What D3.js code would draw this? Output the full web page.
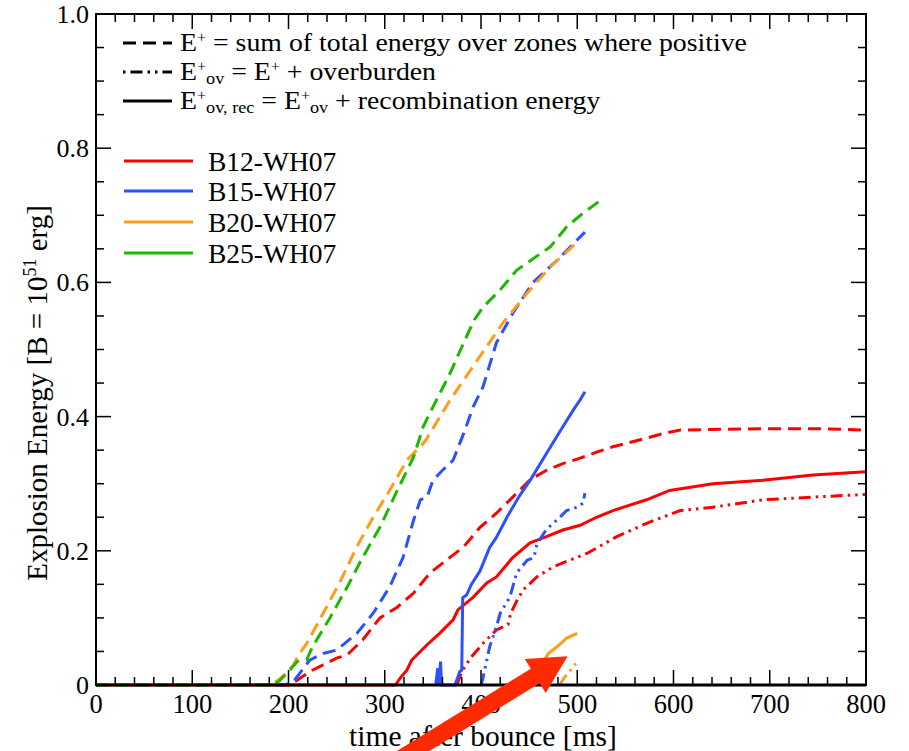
<!DOCTYPE html>
<html>
<head>
<meta charset="utf-8">
<script src="https://cdn.jsdelivr.net/npm/d3@7"></script>
<style>
  body { margin: 0; background: #fff; }
  text { font-family: "Liberation Serif", "Times New Roman", serif; fill: #000; }
</style>
</head>
<body>
<div id="chart"></div>
<script>
// data: [time (ms), energy (B)]
let b12Dashed = [[0,0],[200,0],[209,0.007],[222,0.02],[236,0.03],[250,0.04],[261,0.045],[277,0.067],[295,0.1],[313,0.116],[330,0.137],[347,0.167],[364,0.186],[382,0.206],[399,0.235],[416,0.256],[433,0.28],[451,0.306],[468,0.32],[485,0.33],[503,0.338],[520,0.347],[537,0.355],[572,0.368],[590,0.375],[607,0.38],[650,0.381],[700,0.382],[750,0.382],[800,0.38]];
let b12Solid = [[0,0],[311,0],[317,0.012],[323,0.022],[328,0.037],[344,0.06],[357,0.077],[371,0.097],[376,0.112],[392,0.131],[406,0.152],[416,0.161],[433,0.19],[451,0.212],[468,0.221],[485,0.231],[503,0.238],[520,0.25],[537,0.26],[572,0.276],[596,0.29],[641,0.3],[693,0.305],[745,0.313],[800,0.318]];
let b12DashDot = [[375,0],[380,0.02],[389,0.04],[402,0.062],[416,0.082],[428,0.09],[431,0.107],[437,0.125],[444,0.142],[458,0.161],[475,0.176],[492,0.186],[510,0.196],[541,0.221],[572,0.241],[607,0.26],[641,0.265],[693,0.276],[745,0.28],[800,0.284]];

let b15Dashed = [[0,0],[195,0],[204,0.003],[213,0.02],[222,0.037],[236,0.047],[250,0.052],[271,0.077],[288,0.107],[305,0.146],[319,0.19],[330,0.246],[337,0.276],[344,0.28],[350,0.305],[360,0.32],[371,0.335],[382,0.375],[392,0.415],[402,0.444],[416,0.51],[433,0.554],[454,0.6],[479,0.633],[508,0.675]];
let b15Solid = [[353,0],[355,0.025],[356,0],[358,0.035],[359,0],[373,0],[378,0.02],[380,0.022],[381,0.13],[385,0.134],[390,0.15],[399,0.17],[409,0.205],[416,0.22],[427,0.25],[433,0.265],[440,0.282],[451,0.305],[468,0.345],[485,0.385],[496,0.41],[503,0.425],[508,0.437]];
let b15DashDot = [[400,0],[402,0.01],[405,0.03],[409,0.057],[416,0.087],[420,0.107],[430,0.131],[437,0.167],[448,0.186],[455,0.19],[458,0.21],[468,0.232],[479,0.246],[489,0.26],[500,0.265],[506,0.271],[508,0.286]];

let b20Dashed = [[0,0],[180,0],[190,0.008],[198,0.018],[205,0.03],[212,0.048],[219,0.062],[236,0.107],[253,0.152],[271,0.206],[288,0.25],[305,0.29],[323,0.335],[340,0.36],[344,0.368],[368,0.425],[396,0.484],[423,0.54],[448,0.584],[472,0.623],[497,0.656]];
let b20Solid = [[455,0],[460,0.015],[465,0.035],[470,0.047],[479,0.057],[489,0.07],[500,0.077]];
let b20DashDot = [[482,0],[486,0.01],[492,0.02],[500,0.035]];

let b25Dashed = [[0,0],[185,0],[191,0.007],[200,0.02],[209,0.035],[219,0.038],[225,0.057],[243,0.1],[261,0.146],[277,0.19],[295,0.235],[313,0.29],[330,0.34],[340,0.385],[350,0.414],[368,0.465],[382,0.51],[393,0.544],[402,0.563],[420,0.589],[437,0.618],[472,0.653],[489,0.683],[506,0.703],[522,0.72]];

let models = ["B12-WH07", "B15-WH07", "B20-WH07", "B25-WH07"];
let colors = ["#ff0000", "#2d50ff", "#ff9c1c", "#1eb800"];
let styleNames = ["E+ dashed", "E+ov dash-dot", "E+ov,rec solid"];

let xTicks = [0,100,200,300,400,500,600,700,800];
let yTicks = [0,0.2,0.4,0.6,0.8,1.0];

// arrow annotation (tail, tip) in data units
let arrowTail = [314, -0.112], arrowTip = [490, 0.043];

let dashE = "13,7", dashOv = "12,5,2.5,5,2.5,5";
let series = [
  {data: b12Dashed, color: colors[0], dash: dashE},
  {data: b12DashDot, color: colors[0], dash: dashOv},
  {data: b12Solid, color: colors[0], dash: null},
  {data: b15Dashed, color: colors[1], dash: dashE},
  {data: b15DashDot, color: colors[1], dash: dashOv},
  {data: b15Solid, color: colors[1], dash: null},
  {data: b20Dashed, color: colors[2], dash: dashE},
  {data: b20DashDot, color: colors[2], dash: dashOv},
  {data: b20Solid, color: colors[2], dash: null},
  {data: b25Dashed, color: colors[3], dash: dashE}
];

let width = 909, height = 751;
let mLeft = 96, mRight = 866, mTop = 14, mBottom = 685;

let svg = d3.select("#chart").append("svg").attr("width", width).attr("height", height);

let x = d3.scaleLinear().domain([0, 800]).range([mLeft, mRight]);
let y = d3.scaleLinear().domain([0, 1]).range([mBottom, mTop]);

svg.append("clipPath").attr("id", "clip")
  .append("rect").attr("x", mLeft).attr("y", mTop).attr("width", mRight - mLeft).attr("height", mBottom - mTop + 3);

// curves
let line = d3.line().x(d => x(d[0])).y(d => y(d[1]));
svg.append("g").attr("clip-path", "url(#clip)")
  .selectAll("path").data(series).enter().append("path")
  .attr("d", d => line(d.data))
  .attr("fill", "none")
  .attr("stroke", d => d.color)
  .attr("stroke-width", 3)
  .attr("stroke-dasharray", d => d.dash);

// frame + ticks (inward, all four sides)
svg.append("rect").attr("x", mLeft).attr("y", mTop).attr("width", mRight - mLeft).attr("height", mBottom - mTop)
  .attr("fill", "none").attr("stroke", "#000").attr("stroke-width", 2);

let axes = svg.append("g").attr("class", "axes");
let xMinor = d3.range(0, 801, 20), yMinor = d3.range(0, 1.0001, 0.05);
let tk = axes.append("g").attr("stroke", "#000").attr("stroke-width", 1.5);
xMinor.forEach(v => {
  let L = (v % 100 === 0) ? 15 : 8;
  tk.append("line").attr("x1", x(v)).attr("x2", x(v)).attr("y1", mBottom).attr("y2", mBottom - L);
  tk.append("line").attr("x1", x(v)).attr("x2", x(v)).attr("y1", mTop).attr("y2", mTop + L);
});
yMinor.forEach(v => {
  let major = Math.abs(v * 5 - Math.round(v * 5)) < 1e-6;
  let L = major ? 15 : 8;
  tk.append("line").attr("y1", y(v)).attr("y2", y(v)).attr("x1", mLeft).attr("x2", mLeft + L);
  tk.append("line").attr("y1", y(v)).attr("y2", y(v)).attr("x1", mRight).attr("x2", mRight - L);
});
svg.append("line").attr("x1", mLeft).attr("x2", mRight).attr("y1", mBottom).attr("y2", mBottom)
  .attr("stroke", "#000").attr("stroke-width", 3);

axes.selectAll(".xl").data(xTicks).enter().append("text")
  .attr("x", d => x(d)).attr("y", mBottom + 28)
  .attr("text-anchor", "middle").attr("font-size", 26.5).text(d => d);
axes.selectAll(".yl").data(yTicks).enter().append("text")
  .attr("x", mLeft - 7).attr("y", d => y(d) + 9)
  .attr("text-anchor", "end").attr("font-size", 26)
  .text(d => d === 0 ? "0" : d3.format(".1f")(d));

svg.append("text").attr("x", (mLeft + mRight) / 2 + 2).attr("y", 746)
  .attr("text-anchor", "middle").attr("font-size", 29.5).text("time after bounce [ms]");

let yl = svg.append("text").attr("transform", "translate(47, 393) rotate(-90)")
  .attr("text-anchor", "middle").attr("font-size", 29);
yl.append("tspan").text("Explosion Energy [B = 10");
yl.append("tspan").attr("font-size", 18).attr("dy", -11).text("51");
yl.append("tspan").attr("dy", 11).text(" erg]");

// legend: line styles
let lg = svg.append("g");
let styleDash = ["13,7", "2.5,5,12,5,2.5,5", null];
let styleY = [43, 72, 101];
styleNames.forEach((s, i) => {
  lg.append("line").attr("x1", 123).attr("x2", 172).attr("y1", styleY[i]).attr("y2", styleY[i])
    .attr("stroke", "#000").attr("stroke-width", 3).attr("stroke-dasharray", styleDash[i]);
});
function sup(t, s) { t.append("tspan").attr("font-size", 15).attr("dy", -9).text(s); }
function sub(t, s) { t.append("tspan").attr("font-size", 17).attr("dy", 13).text(s); }
function legendText(i) {
  return lg.append("text").attr("transform", `translate(180, ${styleY[i] + 8}) scale(1.07, 1)`).attr("font-size", 26);
}
let t1 = legendText(0);
t1.append("tspan").text("E"); sup(t1, "+");
t1.append("tspan").attr("dy", 9).text(" = sum of total energy over zones where positive");

let t2 = legendText(1);
t2.append("tspan").text("E"); sup(t2, "+"); sub(t2, "ov");
t2.append("tspan").attr("dy", -4).text(" = E"); sup(t2, "+");
t2.append("tspan").attr("dy", 9).text(" + overburden");

let t3 = legendText(2);
t3.append("tspan").text("E"); sup(t3, "+"); sub(t3, "ov, rec");
t3.append("tspan").attr("dy", -4).text(" = E"); sup(t3, "+"); sub(t3, "ov");
t3.append("tspan").attr("dy", -4).text(" + recombination energy");

// legend: models
let modelY = [161, 191, 222, 253];
models.forEach((m, i) => {
  lg.append("line").attr("x1", 124).attr("x2", 193).attr("y1", modelY[i]).attr("y2", modelY[i])
    .attr("stroke", colors[i]).attr("stroke-width", 3);
  lg.append("text").attr("x", 208).attr("y", modelY[i] + 10).attr("font-size", 27.5).text(m);
});

// red arrow annotation
let p0 = [x(arrowTail[0]), y(arrowTail[1])], p1 = [x(arrowTip[0]), y(arrowTip[1])];
let dx = p1[0] - p0[0], dy = p1[1] - p0[1], len = Math.hypot(dx, dy);
let ux = dx / len, uy = dy / len, px = -uy, py = ux;
let headL = 38, headW = 20, shaftW = 8.5;
let bx = p1[0] - ux * headL, by = p1[1] - uy * headL;
let pts = [
  [p0[0] + px * shaftW, p0[1] + py * shaftW],
  [bx + px * shaftW, by + py * shaftW],
  [bx + px * headW, by + py * headW],
  p1,
  [bx - px * headW, by - py * headW],
  [bx - px * shaftW, by - py * shaftW],
  [p0[0] - px * shaftW, p0[1] - py * shaftW]
];
svg.append("polygon").attr("points", pts.map(p => p.join(",")).join(" ")).attr("fill", "#ff2a00");
</script>
</body>
</html>
